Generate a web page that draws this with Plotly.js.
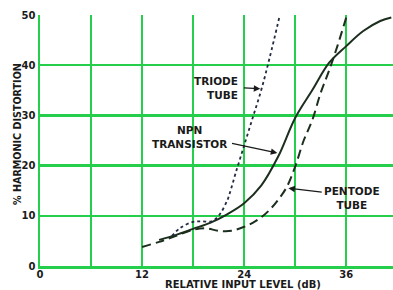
<!DOCTYPE html>
<html>
<head>
<meta charset="utf-8">
<script src="https://cdn.plot.ly/plotly-3.0.1.min.js"></script>
<style>html,body{margin:0;padding:0;background:#fff;}#chart{width:393px;height:290px;}</style>
</head>
<body>
<div id="chart"></div>
<script>
// Relative input level (dB) and % harmonic distortion
const transistorX = [14, 16, 18, 20, 22, 24, 26, 28, 30, 32, 34, 36, 38, 40, 41.3];
const transistorY = [5.2, 6.2, 7.4, 8.6, 10.3, 12.5, 16, 21.8, 29.5, 35, 40.5, 43.8, 46.8, 48.8, 49.5];

const triodeX = [15.5, 16.5, 18, 19, 20.2, 21, 22, 22.4, 23, 24, 25, 26, 27, 28.2];
const triodeY = [6, 7.6, 8.8, 8.9, 8.9, 10, 13, 15, 18.5, 24, 29.5, 35, 41.5, 50];

const pentodeX = [12, 14, 16, 18, 19.5, 21, 22.5, 24, 25, 26, 27, 28, 29, 30, 31, 32, 33, 34, 35, 36];
const pentodeY = [3.8, 4.8, 6, 7.2, 7.5, 7, 7, 7.8, 8.6, 9.7, 11.2, 13.2, 15.7, 19.8, 25, 29, 34.5, 39, 44, 49.5];

const xTickVals = [0, 6, 12, 18, 24, 30, 36];
const xTickText = ['0', '', '12', '', '24', '', '36'];
const yTickVals = [0, 10, 20, 30, 40, 50];
const yTickText = ['0', '10', '20', '30', '40', '50'];

const curveColor = '#1c2e1e';
const gridColor = '#25cf4c';
const textColor = '#1a1a1a';
const labelFont = {family: 'DejaVu Sans', size: 10.5, color: textColor, weight: 'bold'};

const traces = [
  {x: transistorX, y: transistorY, mode: 'lines', line: {color: curveColor, width: 2, shape: 'spline'}, hoverinfo: 'skip'},
  {x: triodeX, y: triodeY, mode: 'lines', line: {color: '#222a40', width: 1.8, dash: 'dot', shape: 'spline'}, hoverinfo: 'skip'},
  {x: pentodeX, y: pentodeY, mode: 'lines', line: {color: curveColor, width: 2, dash: '9px,5px', shape: 'spline'}, hoverinfo: 'skip'}
];

const arrow = (hx, hy, tx, ty) => ({
  x: hx, y: hy, ax: tx, ay: ty, xref: 'x', yref: 'y', axref: 'x', ayref: 'y',
  text: '', showarrow: true, arrowhead: 2, arrowsize: 1, arrowwidth: 1.3, arrowcolor: textColor
});

const plotW = 393 - 40, plotH = 290 - 15 - 24;

const layout = {
  width: 393, height: 290,
  margin: {l: 40, r: 0, t: 15, b: 24},
  paper_bgcolor: '#fff', plot_bgcolor: '#fff',
  showlegend: false,
  font: {family: 'DejaVu Sans', color: textColor},
  xaxis: {
    range: [0, 41.5], tickvals: xTickVals, ticktext: xTickText,
    showgrid: true, gridcolor: gridColor, gridwidth: 2.5,
    showline: true, linecolor: gridColor, linewidth: 2.5, zeroline: false,
    ticks: '', ticklabelstandoff: -3,
    tickfont: {family: 'DejaVu Sans', size: 10, color: textColor, weight: 'bold'},
    fixedrange: true
  },
  yaxis: {
    range: [0, 50], tickvals: yTickVals, ticktext: yTickText,
    showgrid: true, gridcolor: gridColor, gridwidth: 2.5,
    showline: true, linecolor: gridColor, linewidth: 2.5, zeroline: false,
    ticks: '', tickfont: {family: 'DejaVu Sans', size: 10, color: textColor, weight: 'bold'},
    fixedrange: true
  },
  annotations: [
    {x: 23.5, y: 35.5, xref: 'x', yref: 'y', text: 'TRIODE<br>TUBE', showarrow: false, xanchor: 'right', yanchor: 'middle', align: 'right', font: labelFont},
    arrow(25.9, 35.3, 23.8, 35.5),
    {x: 17.6, y: 25.7, xref: 'x', yref: 'y', text: 'NPN<br>TRANSISTOR', showarrow: false, xanchor: 'center', yanchor: 'middle', align: 'center', font: labelFont},
    arrow(27.9, 22.5, 22.4, 24.5),
    {x: 36.7, y: 13.5, xref: 'x', yref: 'y', text: 'PENTODE<br>TUBE', showarrow: false, xanchor: 'center', yanchor: 'middle', align: 'center', font: labelFont},
    arrow(29.2, 15.5, 33.3, 14.7),
    {x: (243 - 40) / plotW, y: (266 - 284) / plotH, xref: 'paper', yref: 'paper', xanchor: 'center', yanchor: 'middle',
     text: 'RELATIVE INPUT LEVEL (dB)', showarrow: false,
     font: {family: 'DejaVu Sans', size: 10, color: textColor, weight: 'bold'}},
    {x: (17 - 40) / plotW, y: (266 - 134) / plotH, xref: 'paper', yref: 'paper', xanchor: 'center', yanchor: 'middle',
     text: '% HARMONIC DISTORTION', showarrow: false, textangle: -90,
     font: {family: 'DejaVu Sans', size: 9.6, color: textColor, weight: 'bold'}}
  ]
};

Plotly.newPlot('chart', traces, layout, {staticPlot: true, displayModeBar: false});
</script>
</body>
</html>
